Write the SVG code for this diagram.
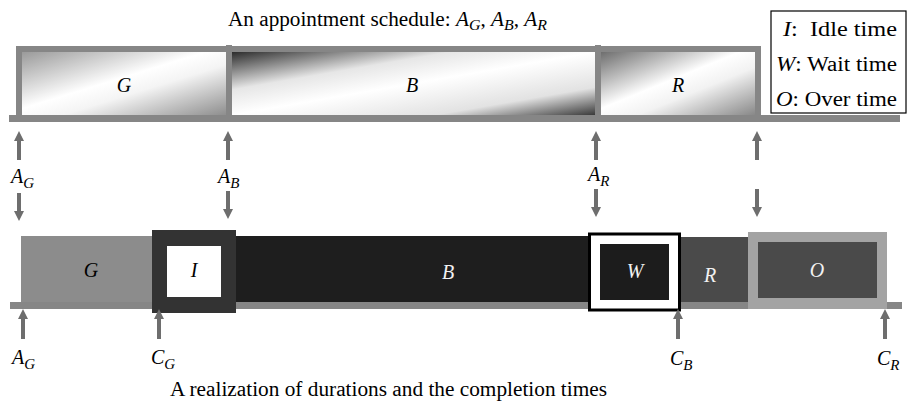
<svg xmlns="http://www.w3.org/2000/svg" width="907" height="403" viewBox="0 0 907 403">
<style>
.t{font-family:"Liberation Serif","Times New Roman",serif;fill:#000}
.i{font-style:italic}
.w{fill:#f2f2f2}
.lab{font-family:"Liberation Serif","Times New Roman",serif;font-style:italic;font-size:20px;fill:#000}
.sub{font-size:15px}
.frame{fill:#868686}
.arr{fill:#6e6e6e}
</style>
<defs>
<linearGradient id="gG" x1="0" y1="0" x2="1" y2="1">
<stop offset="0" stop-color="#9a9a9a"/>
<stop offset="0.45" stop-color="#ffffff"/>
<stop offset="0.6" stop-color="#f4f4f4"/>
<stop offset="1" stop-color="#8e8e8e"/>
</linearGradient>
<linearGradient id="gB" x1="0" y1="0" x2="1" y2="1">
<stop offset="0" stop-color="#2c2c2c"/>
<stop offset="0.3" stop-color="#e6e6e6"/>
<stop offset="0.5" stop-color="#ffffff"/>
<stop offset="0.78" stop-color="#e2e2e2"/>
<stop offset="1" stop-color="#3a3a3a"/>
</linearGradient>
<linearGradient id="gR" x1="0" y1="0" x2="1" y2="1">
<stop offset="0" stop-color="#6e6e6e"/>
<stop offset="0.45" stop-color="#ffffff"/>
<stop offset="0.62" stop-color="#f2f2f2"/>
<stop offset="1" stop-color="#888888"/>
</linearGradient>
</defs>
<rect width="907" height="403" fill="#ffffff"/>

<text class="t" x="228" y="26" font-size="20" textLength="319" lengthAdjust="spacingAndGlyphs">An appointment schedule: <tspan class="i">A</tspan><tspan class="i" font-size="15" dy="4">G</tspan><tspan dy="-4">, </tspan><tspan class="i">A</tspan><tspan class="i" font-size="15" dy="4">B</tspan><tspan dy="-4">, </tspan><tspan class="i">A</tspan><tspan class="i" font-size="15" dy="4">R</tspan></text>

<g id="schedule-frame">
<rect class="frame" x="16" y="46" width="745" height="6"/>
<rect class="frame" x="16" y="46" width="6" height="70"/>
<rect class="frame" x="755" y="46" width="6" height="70"/>
<rect class="frame" x="226" y="45" width="6" height="71"/>
<rect class="frame" x="595" y="45" width="6" height="71"/>
<rect class="frame" x="9" y="115" width="891" height="7"/>
</g>
<g id="sched-G">
<rect x="22" y="52" width="204" height="63" fill="url(#gG)"/>
<text class="t i" x="124" y="92" font-size="20" text-anchor="middle">G</text>
</g>
<g id="sched-B">
<rect x="232" y="52" width="363" height="63" fill="url(#gB)"/>
<text class="t i" x="412" y="92" font-size="20" text-anchor="middle">B</text>
</g>
<g id="sched-R">
<rect x="601" y="52" width="154" height="63" fill="url(#gR)"/>
<text class="t i" x="678" y="92" font-size="20" text-anchor="middle">R</text>
</g>

<g id="legend">
<rect x="771" y="11" width="135" height="102" fill="#ffffff" stroke="#000" stroke-width="1.2"/>
<text class="t" x="897" y="36" font-size="20" text-anchor="end" xml:space="preserve" textLength="114" lengthAdjust="spacingAndGlyphs"><tspan class="i">I</tspan>:  Idle time</text>
<text class="t" x="897" y="71" font-size="20" text-anchor="end" textLength="121" lengthAdjust="spacingAndGlyphs"><tspan class="i">W</tspan>: Wait time</text>
<text class="t" x="897" y="106" font-size="20" text-anchor="end" textLength="121" lengthAdjust="spacingAndGlyphs"><tspan class="i">O</tspan>: Over time</text>
</g>

<g id="realization">
<rect class="frame" x="10" y="302" width="892" height="7"/>
<g id="real-G">
<rect x="21" y="236" width="131" height="66" fill="#8c8c8c"/>
<text class="t i" x="91" y="277" font-size="20" text-anchor="middle">G</text>
</g>
<g id="real-I">
<rect x="152" y="230" width="84" height="83" fill="#333333"/>
<rect x="167" y="246" width="54" height="51" fill="#ffffff"/>
<text class="t i" x="194" y="277" font-size="20" text-anchor="middle">I</text>
</g>
<g id="real-B">
<rect x="236" y="236" width="353" height="66" fill="#1e1e1e"/>
<text class="t i w" x="448" y="279" font-size="20" text-anchor="middle">B</text>
</g>
<g id="real-W">
<rect x="589.5" y="234" width="90" height="76" fill="#ffffff" stroke="#000" stroke-width="3"/>
<rect x="600" y="244" width="69" height="56" fill="#1c1c1c"/>
<text class="t i w" x="635" y="278" font-size="20" text-anchor="middle">W</text>
</g>
<g id="real-R">
<rect x="681" y="237" width="67" height="65" fill="#4a4a4a"/>
<text class="t i w" x="710" y="282" font-size="20" text-anchor="middle">R</text>
</g>
<g id="real-O">
<rect x="748" y="232" width="139" height="77" fill="#a3a3a3"/>
<rect x="758" y="242" width="119" height="56" fill="#4a4a4a"/>
<text class="t i w" x="817" y="277" font-size="20" text-anchor="middle">O</text>
</g>
</g>

<g id="connectors">
<path class="arr" d="M17,160 V141 H14 L19,131 L24,141 H21 V160 Z"/>
<path class="arr" d="M17,193 V211 H14 L19,221 L24,211 H21 V193 Z"/>
<path class="arr" d="M226,160 V141 H223 L228,131 L233,141 H230 V160 Z"/>
<path class="arr" d="M226,191 V209 H223 L228,219 L233,209 H230 V191 Z"/>
<path class="arr" d="M594,160 V141 H591 L596,131 L601,141 H598 V160 Z"/>
<path class="arr" d="M594,189 V207 H591 L596,217 L601,207 H598 V189 Z"/>
<path class="arr" d="M755,160 V141 H752 L757,131 L762,141 H759 V160 Z"/>
<path class="arr" d="M755,189 V207 H752 L757,217 L762,207 H759 V189 Z"/>
<path class="arr" d="M21,339 V319 H18 L23,309 L28,319 H25 V339 Z"/>
<path class="arr" d="M157,339 V319 H154 L159,309 L164,319 H161 V339 Z"/>
<path class="arr" d="M676,339 V319 H673 L678,309 L683,319 H680 V339 Z"/>
<path class="arr" d="M883,339 V319 H880 L885,309 L890,319 H887 V339 Z"/>
</g>

<g id="labels">
<text class="lab" x="11" y="183">A<tspan class="sub" dy="5">G</tspan></text>
<text class="lab" x="218" y="183">A<tspan class="sub" dy="5">B</tspan></text>
<text class="lab" x="588" y="181">A<tspan class="sub" dy="5">R</tspan></text>
<text class="lab" x="12" y="364">A<tspan class="sub" dy="5">G</tspan></text>
<text class="lab" x="151" y="364">C<tspan class="sub" dy="5">G</tspan></text>
<text class="lab" x="670" y="365">C<tspan class="sub" dy="5">B</tspan></text>
<text class="lab" x="877" y="365">C<tspan class="sub" dy="5">R</tspan></text>
</g>

<text class="t" x="170" y="396" font-size="20" textLength="437" lengthAdjust="spacingAndGlyphs">A realization of durations and the completion times</text>
</svg>
